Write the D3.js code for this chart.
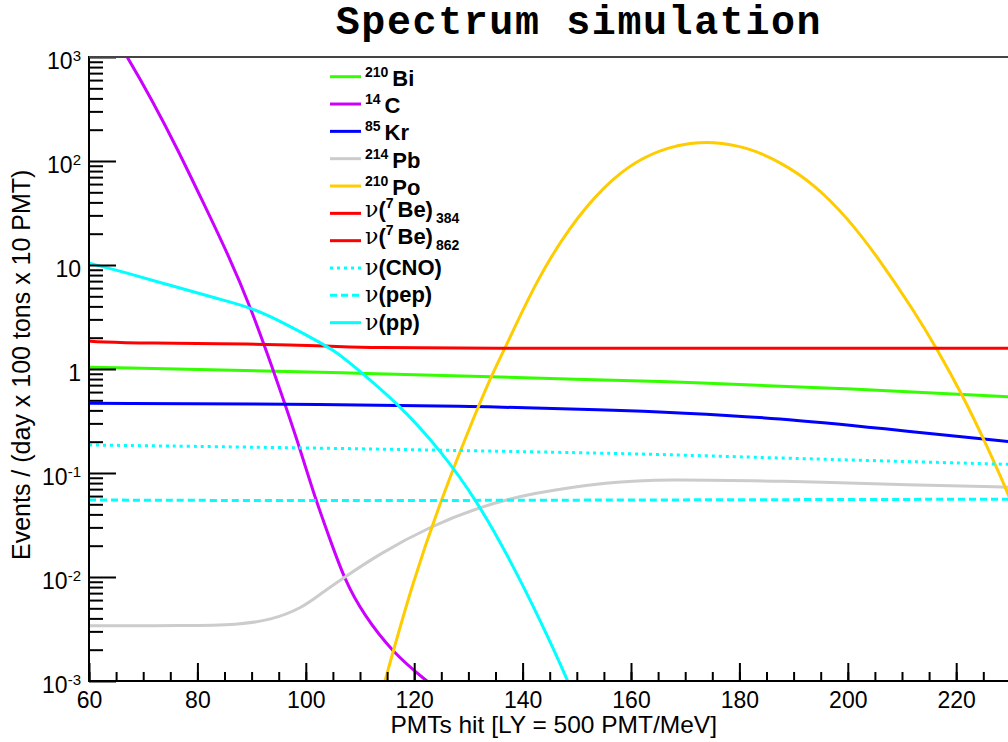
<!DOCTYPE html>
<html>
<head>
<meta charset="utf-8">
<script src="https://cdn.jsdelivr.net/npm/d3@7"></script>
<style>
  body { margin: 0; background: #fff; }
  svg { display: block; font-family: "Liberation Sans", Arial, sans-serif; }
</style>
</head>
<body>
<svg id="chart" width="1008" height="742"></svg>
<script>
// curves: [PMTs hit, events]
const bi210 = [[60, 1.04], [106, 0.93], [156, 0.78], [169, 0.75], [200, 0.65], [230, 0.54]];
const c14 = [[63, 2200], [66.9, 1045], [71.8, 372], [76.4, 128], [81, 40.6], [85.7, 12.5], [89.9, 3.83],
             [94.1, 0.94], [96.1, 0.468], [98.9, 0.173], [101.6, 0.06], [104.5, 0.0227], [107.2, 0.0093],
             [110.6, 0.0044], [116.1, 0.00186], [122.3, 0.001], [126, 0.0007]];
const kr85 = [[60, 0.468], [106, 0.457], [130, 0.44], [156, 0.404], [169, 0.38], [187.5, 0.336],
              [205.9, 0.269], [230, 0.2]];
const pb214 = [[60, 0.0034], [78.3, 0.0034], [87.5, 0.00347], [93.6, 0.00386], [99.2, 0.005],
               [102.9, 0.007], [105.9, 0.009], [113.7, 0.0169], [122.9, 0.0305], [132.1, 0.0474],
               [141.4, 0.0638], [156.1, 0.0826], [166, 0.0871], [187.5, 0.0838], [212.1, 0.0767], [230, 0.073]];
const po210 = [[113, 0.0005], [114.6, 0.001], [119.8, 0.0093], [125.4, 0.0638], [130.3, 0.279], [134, 0.81],
               [136.8, 1.6], [142.6, 7.18], [148.7, 23.4], [154.9, 56.6], [161, 102], [167.2, 137],
               [170.9, 148], [174.9, 154], [181.3, 137], [187.5, 98.4], [193.6, 61], [199.8, 29.1],
               [205.9, 11.2], [212.1, 3.69], [216.4, 1.58], [221.3, 0.542], [225, 0.216], [229.6, 0.0638], [232, 0.03]];
const be7 = [[60, 1.86], [62, 1.82], [70, 1.77], [90, 1.75], [105, 1.66], [112, 1.6], [130, 1.58], [180, 1.58], [230, 1.58]];
const cno = [[60, 0.186], [106, 0.173], [156, 0.155], [169, 0.149], [190, 0.138], [230, 0.121]];
const pep = [[60, 0.055], [106, 0.054], [156, 0.055], [230, 0.056]];
const pp = [[60, 10.4], [66, 8.7], [75.2, 6.32], [84, 4.7], [89.9, 3.92], [96.7, 2.65], [102.9, 1.77],
            [105.9, 1.42], [107.5, 1.22], [117.4, 0.45], [124.8, 0.166], [131.5, 0.055], [137.7, 0.0146],
            [143.2, 0.0039], [148.4, 0.001], [150, 0.0006]];

const xMajor = [60, 80, 100, 120, 140, 160, 180, 200, 220];
const xMinor = d3.range(60, 251, 5);
const yTickVals = [1e3, 1e2, 10, 1, 0.1, 0.01, 0.001];
const yTickBase = ["10", "10", "10", "1", "10", "10", "10"];
const yTickExp = ["3", "2", "", "", "-1", "-2", "-3"];

const legendRows = [
  [["sup", "210"], ["b", "Bi"]],
  [["sup", "14"], ["b", "C"]],
  [["sup", "85"], ["b", "Kr"]],
  [["sup", "214"], ["b", "Pb"]],
  [["sup", "210"], ["b", "Po"]],
  [["nu", "ν"], ["b", "("], ["sup", "7"], ["b", "Be)"], ["sub", "384"]],
  [["nu", "ν"], ["b", "("], ["sup", "7"], ["b", "Be)"], ["sub", "862"]],
  [["nu", "ν"], ["b", "(CNO)"]],
  [["nu", "ν"], ["b", "(pep)"]],
  [["nu", "ν"], ["b", "(pp)"]]
];

// drawing styles, same order as legend
const series = [
  { data: bi210, color: "#33ff00" },
  { data: c14, color: "#cc00ff" },
  { data: kr85, color: "#0000ff" },
  { data: pb214, color: "#cccccc" },
  { data: po210, color: "#ffcc00" },
  { data: be7, color: "#ff0000" },
  { data: null, color: "#ff0000" },
  { data: cno, color: "#00ffff", dash: "3,4" },
  { data: pep, color: "#00ffff", dash: "7,4" },
  { data: pp, color: "#00ffff" }
];

const W = 1008, H = 742;
const svg = d3.select("#chart");
svg.append("rect").attr("width", W).attr("height", H).attr("fill", "#fff");

const x = d3.scaleLinear().domain([60, 250]).range([89, 1118.8]);
const y = d3.scaleLog().domain([1e-3, 1e3]).range([681, 57]);

svg.append("defs").append("clipPath").attr("id", "plot")
  .append("rect").attr("x", 89).attr("y", 57).attr("width", W - 89).attr("height", 624);

// curves (smoothed through the read points)
const line = d3.line().x(d => x(d[0])).y(d => y(d[1])).curve(d3.curveBasis);
const curves = svg.append("g").attr("clip-path", "url(#plot)");
series.forEach(s => {
  if (!s.data) return;
  curves.append("path")
    .attr("d", line(s.data))
    .attr("fill", "none")
    .attr("stroke", s.color)
    .attr("stroke-width", 3)
    .attr("stroke-dasharray", s.dash || null);
});

// x axis
const gxMinor = svg.append("g").attr("transform", "translate(0,681)")
  .call(d3.axisBottom(x).tickValues(xMinor).tickSize(-9).tickSizeOuter(0).tickFormat(""));
const gx = svg.append("g").attr("transform", "translate(0,681)")
  .call(d3.axisBottom(x).tickValues(xMajor).tickSize(-18).tickSizeOuter(0).tickPadding(11));
gx.attr("font-size", null).attr("font-family", null);
gx.selectAll("text").attr("font-size", 23).attr("fill", "#000");

// y axis
const yMinor = [];
[1e-3, 1e-2, 1e-1, 1, 10, 100].forEach(d => { for (let k = 2; k <= 9; k++) yMinor.push(d * k); });
const gyMinor = svg.append("g").attr("transform", "translate(89,0)")
  .call(d3.axisLeft(y).tickValues(yMinor).tickSize(-14).tickSizeOuter(0).tickFormat(""));
const gy = svg.append("g").attr("transform", "translate(89,0)")
  .call(d3.axisLeft(y).tickValues(yTickVals).tickSize(-27).tickSizeOuter(0).tickPadding(8).tickFormat(""));
gy.attr("font-size", null).attr("font-family", null);
gy.selectAll(".tick text").each(function (d) {
  const i = yTickVals.indexOf(d);
  const t = d3.select(this).attr("dy", 11).attr("font-size", 23).attr("fill", "#000");
  t.append("tspan").text(yTickBase[i]);
  if (yTickExp[i]) t.append("tspan").attr("font-size", 15).attr("dy", -8).text(yTickExp[i]);
});

[gx, gxMinor, gy, gyMinor].forEach(g => {
  g.select(".domain").remove();
  g.selectAll("line").attr("stroke", "#000").attr("stroke-width", 2);
});

// frame lines
svg.append("line").attr("x1", 89).attr("x2", W).attr("y1", 681).attr("y2", 681)
  .attr("stroke", "#000").attr("stroke-width", 2);
svg.append("line").attr("x1", 89).attr("x2", 89).attr("y1", 56).attr("y2", 682)
  .attr("stroke", "#000").attr("stroke-width", 2);
svg.append("line").attr("x1", 89).attr("x2", W).attr("y1", 57).attr("y2", 57)
  .attr("stroke", "#444").attr("stroke-width", 2);

// titles
svg.append("text").attr("x", 579).attr("y", 33.5).attr("text-anchor", "middle")
  .attr("font-family", "'Liberation Mono', 'Courier New', monospace")
  .attr("font-weight", "bold").attr("font-size", 40).attr("letter-spacing", 1.6)
  .text("Spectrum simulation");
svg.append("text").attr("x", 717).attr("y", 733).attr("text-anchor", "end")
  .attr("font-size", 24.5).text("PMTs hit [LY = 500 PMT/MeV]");
svg.append("text").attr("transform", "translate(30,560) rotate(-90)")
  .attr("font-size", 25).text("Events / (day x 100 tons x 10 PMT)");

// legend
const lg = svg.append("g");
legendRows.forEach((parts, i) => {
  const ly = 76.7 + 27.33 * i;
  const s = series[i];
  lg.append("line").attr("x1", 330).attr("x2", 361).attr("y1", ly).attr("y2", ly)
    .attr("stroke", s.color).attr("stroke-width", 3).attr("stroke-dasharray", s.dash || null);
  const hasSup = parts[0][0] === "sup";
  const hasSub = parts.some(p => p[0] === "sub");
  const base = ly + (hasSup ? 9 : hasSub ? 3.5 : 7);
  const t = lg.append("text").attr("x", 365).attr("y", base);
  let shift = 0, prev = null;
  parts.forEach(([kind, str]) => {
    const target = kind === "sup" ? -9 : kind === "sub" ? 6 : 0;
    const sp = t.append("tspan").text(str).attr("dy", target - shift);
    if (kind === "sup" || kind === "sub") {
      sp.attr("font-size", 14).attr("font-weight", "bold");
      if (kind === "sub") sp.attr("dx", 3);
    } else if (kind === "nu") {
      sp.attr("font-size", 22).attr("font-family", "'DejaVu Serif', serif");
    } else {
      sp.attr("font-size", 22).attr("font-weight", "bold");
      if (prev === "sup") sp.attr("dx", 4);
    }
    shift = target;
    prev = kind;
  });
});
</script>
</body>
</html>
